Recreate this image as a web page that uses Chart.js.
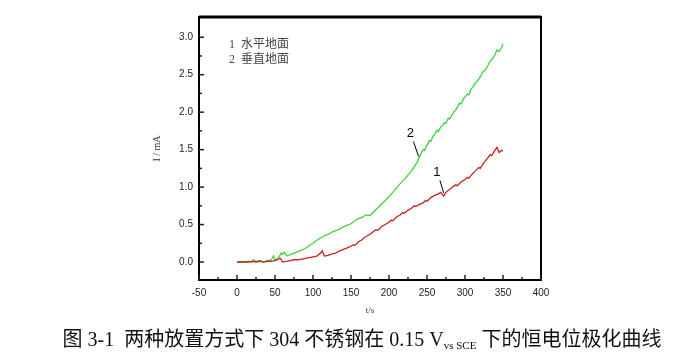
<!DOCTYPE html>
<html>
<head>
<meta charset="utf-8">
<script src="https://cdn.jsdelivr.net/npm/chart.js@4/dist/chart.umd.min.js"></script>
<style>
html,body{margin:0;padding:0;background:#fff;}
#wrap{position:relative;width:676px;height:358px;}
#caption{position:absolute;left:0;width:676px;top:323px;text-align:center;font-family:"Liberation Serif","Noto Sans CJK SC",serif;font-size:20px;color:#111;white-space:nowrap;padding-left:48px;box-sizing:border-box;}
#caption sub{font-size:11px;vertical-align:-3px;}
</style>
</head>
<body>
<div id="wrap">
<canvas id="c" width="676" height="358"></canvas>
<div id="caption">图 3-1&nbsp; 两种放置方式下 304 不锈钢在 0.15 V<sub>vs SCE</sub> 下的恒电位极化曲线</div>
</div>
<script>
// ---- data ----
const t1 = [0,5,10,15,20,25,30,35,40,45,50,55,57,60,65,70,75,80,85,90,95,100,105,110,112,115,120,125,130,135,140,145,150,153,155,160,165,168,170,175,180,183,185,190,195,200,203,205,210,215,218,220,225,230,233,235,240,245,248,250,255,260,265,268,272,275,280,285,288,290,295,300,303,305,310,315,318,320,325,330,333,335,340,342,345,348,350];
const i1 = [0,0,0,0,0.01,0,0.01,0,0.01,0.01,0.02,0.04,0.05,0,0.01,0.02,0.03,0.03,0.04,0.05,0.06,0.07,0.08,0.12,0.15,0.08,0.09,0.11,0.12,0.15,0.17,0.19,0.21,0.23,0.22,0.27,0.30,0.33,0.34,0.37,0.41,0.43,0.42,0.47,0.50,0.53,0.56,0.55,0.60,0.63,0.66,0.65,0.69,0.72,0.75,0.74,0.77,0.79,0.82,0.81,0.86,0.89,0.91,0.93,0.88,0.93,0.97,1.01,1.03,1.02,1.07,1.10,1.13,1.12,1.18,1.23,1.26,1.25,1.33,1.39,1.43,1.42,1.50,1.53,1.46,1.49,1.48];
const t2 = [0,5,10,15,20,22,25,30,35,40,45,48,50,55,58,60,62,66,70,75,80,85,90,95,100,105,110,115,120,125,130,135,140,145,150,155,160,165,170,175,180,185,190,195,200,205,210,215,220,225,230,235,237,240,243,245,247,250,253,255,258,260,263,265,268,270,273,275,278,280,283,285,288,290,293,295,298,300,303,305,308,310,313,315,318,320,323,325,328,330,333,335,338,340,342,345,348,350];
const i2 = [0,0,0,0.01,0,0.03,0.01,0.02,0,0.02,0.03,0.08,0.02,0.06,0.12,0.10,0.13,0.08,0.10,0.12,0.14,0.16,0.18,0.22,0.25,0.29,0.32,0.35,0.37,0.40,0.42,0.44,0.47,0.49,0.51,0.55,0.58,0.60,0.63,0.62,0.67,0.72,0.77,0.82,0.87,0.93,0.99,1.05,1.10,1.16,1.22,1.30,1.33,1.40,1.47,1.50,1.49,1.56,1.62,1.61,1.68,1.70,1.76,1.74,1.80,1.82,1.86,1.85,1.92,1.91,1.96,2.00,2.03,2.07,2.12,2.11,2.18,2.20,2.24,2.23,2.31,2.33,2.38,2.40,2.44,2.47,2.53,2.55,2.58,2.62,2.68,2.70,2.74,2.78,2.83,2.81,2.86,2.91];
const xTicks = [-50,0,50,100,150,200,250,300,350,400];
const yTicks = [0.0,0.5,1.0,1.5,2.0,2.5,3.0];
const legendLines = ["1  水平地面","2  垂直地面"];
const curveLabels = [{text:"2", t:228, v:1.71, line:[232,1.61,239,1.41]},{text:"1", t:263, v:1.19, line:[267,1.09,272,0.92]}];

const toPts = (ts, vs) => ts.map((t,k)=>({x:t,y:vs[k]}));

const deco = {
  id:'deco',
  afterDraw(chart){
    const {ctx, chartArea:a, scales:{x,y}} = chart;
    ctx.save();
    ctx.strokeStyle='#000';
    ctx.lineWidth=2;
    ctx.strokeRect(a.left,a.top,a.right-a.left,a.bottom-a.top);
    ctx.lineWidth=3;
    ctx.beginPath();ctx.moveTo(a.left,a.top);ctx.lineTo(a.right,a.top);ctx.stroke();
    ctx.lineWidth=1.5;
    ctx.strokeStyle='#222';
    xTicks.forEach(v=>{const px=x.getPixelForValue(v);ctx.beginPath();ctx.moveTo(px,a.bottom);ctx.lineTo(px,a.bottom-5);ctx.stroke();
      const m=x.getPixelForValue(v+25); if(v+25<400){ctx.beginPath();ctx.moveTo(m,a.bottom);ctx.lineTo(m,a.bottom-3);ctx.stroke();}});
    yTicks.forEach(v=>{const py=y.getPixelForValue(v);ctx.beginPath();ctx.moveTo(a.left,py);ctx.lineTo(a.left+5,py);ctx.stroke();
      const m=y.getPixelForValue(v+0.25); if(v<3){ctx.beginPath();ctx.moveTo(a.left,m);ctx.lineTo(a.left+3,m);ctx.stroke();}});
    ctx.fillStyle='#444';
    ctx.font='12px "Liberation Serif","Noto Sans CJK SC"';
    ctx.textBaseline='middle';
    legendLines.forEach((s,k)=>ctx.fillText(s,a.left+30,a.top+28+k*15));
    ctx.fillStyle='#000';ctx.strokeStyle='#000';ctx.lineWidth=1;
    ctx.font='13px "Liberation Sans"';
    ctx.textAlign='center';
    curveLabels.forEach(c=>{
      ctx.fillText(c.text,x.getPixelForValue(c.t),y.getPixelForValue(c.v));
      ctx.beginPath();ctx.moveTo(x.getPixelForValue(c.line[0]),y.getPixelForValue(c.line[1]));
      ctx.lineTo(x.getPixelForValue(c.line[2]),y.getPixelForValue(c.line[3]));ctx.stroke();
    });
    ctx.restore();
  }
};

new Chart(document.getElementById('c'),{
  type:'line',
  data:{datasets:[
    {label:'1',data:toPts(t1,i1),borderColor:'#cc1f1f',borderWidth:1.3,pointRadius:0,tension:0},
    {label:'2',data:toPts(t2,i2),borderColor:'#3ad63a',borderWidth:1.3,pointRadius:0,tension:0}
  ]},
  options:{
    responsive:false,animation:false,
    layout:{padding:{left:139,right:135,top:17,bottom:38}},
    plugins:{legend:{display:false},tooltip:{enabled:false}},
    scales:{
      x:{type:'linear',min:-50,max:400,
        afterBuildTicks:s=>{s.ticks=xTicks.map(v=>({value:v}));},
        afterFit:s=>{s.height=40;},
        grid:{display:false,drawTicks:false},border:{display:false},
        ticks:{padding:7,color:'#222',font:{family:'Liberation Sans',size:10},maxRotation:0,callback:v=>String(v)},
        title:{display:true,text:'t/s',color:'#333',font:{family:'Liberation Serif',size:9},padding:{top:6}}
      },
      y:{type:'linear',min:-0.24,max:3.27,
        afterBuildTicks:s=>{s.ticks=yTicks.map(v=>({value:v}));},
        afterFit:s=>{s.width=60;},
        grid:{display:false,drawTicks:false},border:{display:false},
        ticks:{padding:6,color:'#222',font:{family:'Liberation Sans',size:10},callback:v=>v.toFixed(1)},
        title:{display:true,text:'I / mA',color:'#333',font:{family:'Liberation Serif',size:10},padding:{top:12,bottom:0}}
      }
    }
  },
  plugins:[deco]
});
</script>
</body>
</html>
